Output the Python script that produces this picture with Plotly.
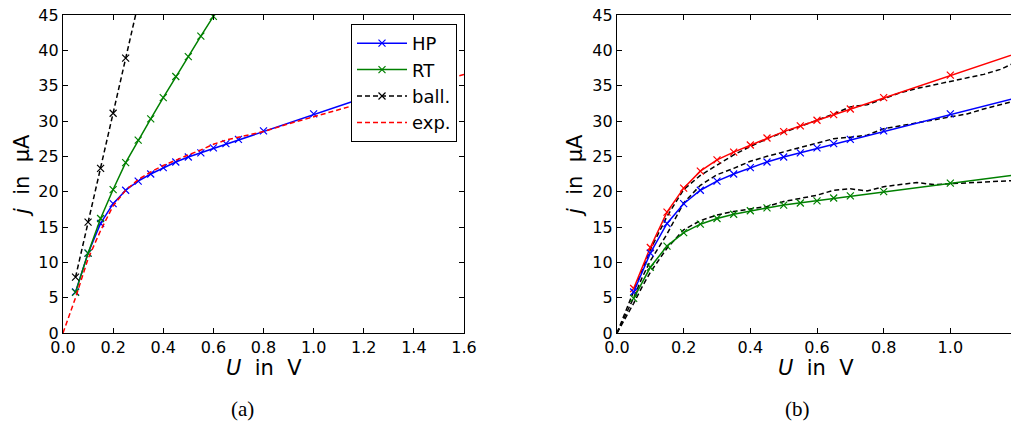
import plotly.graph_objects as go

# ---------------- data: panel (a) ----------------
u_hp = [0.05, 0.1, 0.15, 0.2, 0.25, 0.3, 0.35, 0.4, 0.45, 0.5, 0.55, 0.6, 0.65, 0.7, 0.8, 1.0, 1.2]
j_hp = [5.8, 11.3, 15.5, 18.3, 20.2, 21.5, 22.5, 23.4, 24.2, 24.9, 25.5, 26.2, 26.8, 27.4, 28.6, 31.0, 33.3]

u_rt = [0.05, 0.1, 0.15, 0.2, 0.25, 0.3, 0.35, 0.4, 0.45, 0.5, 0.55, 0.6]
j_rt = [5.75, 11.3, 16.2, 20.3, 24.1, 27.3, 30.3, 33.3, 36.3, 39.1, 42.0, 44.8]

u_ball = [0.05, 0.1, 0.15, 0.2, 0.25, 0.3]
j_ball = [7.9, 15.7, 23.3, 31.1, 38.9, 46.6]

u_exp_a = [0.0, 0.05, 0.1, 0.15, 0.2, 0.25, 0.3, 0.35, 0.4, 0.45, 0.5, 0.55, 0.6, 0.65,
           0.7, 0.75, 0.8, 0.9, 1.0, 1.1, 1.2, 1.3, 1.4, 1.5, 1.6]
j_exp_a = [0.0, 5.0, 10.5, 14.5, 18.0, 20.2, 21.7, 22.8, 23.7, 24.5, 25.2, 25.9, 26.7, 27.3,
           27.7, 28.0, 28.5, 29.6, 30.6, 31.5, 32.5, 33.5, 34.6, 35.6, 36.6]

# ---------------- data: panel (b) ----------------
u_b = [0.05, 0.1, 0.15, 0.2, 0.25, 0.3, 0.35, 0.4, 0.45, 0.5, 0.55, 0.6, 0.65, 0.7, 0.8, 1.0, 1.2]
j_b_red = [6.3, 12.1, 17.1, 20.5, 22.9, 24.5, 25.6, 26.6, 27.6, 28.5, 29.3, 30.1, 30.9, 31.7, 33.3, 36.5, 39.6]
j_b_blue = [5.8, 11.3, 15.5, 18.3, 20.2, 21.5, 22.5, 23.4, 24.2, 24.9, 25.5, 26.2, 26.8, 27.4, 28.6, 31.0, 33.3]
j_b_green = [4.9, 9.3, 12.3, 14.2, 15.4, 16.2, 16.8, 17.3, 17.7, 18.1, 18.4, 18.7, 19.1, 19.4, 20.0, 21.2, 22.4]

u_exp_b = [0.0, 0.025, 0.05, 0.075, 0.1, 0.15, 0.2, 0.25, 0.3, 0.35, 0.4, 0.45, 0.5, 0.55,
           0.6, 0.65, 0.7, 0.75, 0.8, 0.85, 0.9, 0.95, 1.0, 1.05, 1.1, 1.15, 1.2]
j_exp_b1 = [0.0, 3.0, 6.0, 9.0, 11.8, 16.5, 20.3, 22.3, 23.8, 25.2, 26.4, 27.5, 28.4, 29.2,
            30.1, 31.0, 32.0, 32.3, 33.2, 34.0, 34.6, 35.1, 35.6, 36.2, 36.6, 37.3, 38.4]
j_exp_b2 = [0.0, 2.5, 5.0, 7.8, 10.2, 14.0, 18.4, 20.9, 22.4, 23.3, 24.3, 25.0, 25.6, 26.3,
            26.9, 27.5, 27.7, 28.0, 28.9, 29.3, 29.8, 30.1, 30.5, 31.0, 31.7, 32.3, 32.9]
j_exp_b3 = [0.0, 2.0, 4.2, 6.5, 8.6, 12.0, 14.6, 15.9, 16.7, 17.2, 17.5, 17.9, 18.6, 19.1,
            19.5, 20.2, 20.4, 20.1, 20.7, 21.0, 21.3, 21.0, 21.1, 21.3, 21.4, 21.5, 21.6]

x_ticks_a = [0.0, 0.2, 0.4, 0.6, 0.8, 1.0, 1.2, 1.4, 1.6]
x_ticks_b = [0.0, 0.2, 0.4, 0.6, 0.8, 1.0]
y_ticks = [0, 5, 10, 15, 20, 25, 30, 35, 40, 45]

# ---------------- figure ----------------
W, H = 1011, 423
BLUE, GREEN, RED, BLACK = "#0000ff", "#008000", "#ff0000", "#000000"
FONT = "DejaVu Sans"


def mk(col):
    return dict(symbol="x-thin", size=7, line=dict(color=col, width=1.2), color=col)


fig = go.Figure()

# panel (a)
fig.add_trace(go.Scatter(x=u_hp, y=j_hp, mode="lines+markers", name="HP",
                         line=dict(color=BLUE, width=1.5), marker=mk(BLUE),
                         xaxis="x", yaxis="y"))
fig.add_trace(go.Scatter(x=u_rt, y=j_rt, mode="lines+markers", name="RT",
                         line=dict(color=GREEN, width=1.5), marker=mk(GREEN),
                         xaxis="x", yaxis="y"))
fig.add_trace(go.Scatter(x=u_ball, y=j_ball, mode="lines+markers", name="ball.",
                         line=dict(color=BLACK, width=1.5, dash="5px,3px"), marker=mk(BLACK),
                         xaxis="x", yaxis="y"))
fig.add_trace(go.Scatter(x=u_exp_a, y=j_exp_a, mode="lines", name="exp.",
                         line=dict(color=RED, width=1.5, dash="5px,3px"),
                         xaxis="x", yaxis="y"))

# panel (b)
for jj in (j_exp_b1, j_exp_b2, j_exp_b3):
    fig.add_trace(go.Scatter(x=u_exp_b, y=jj, mode="lines", showlegend=False,
                             line=dict(color=BLACK, width=1.5, dash="5px,3px"),
                             xaxis="x2", yaxis="y2"))
for jj, col in ((j_b_red, RED), (j_b_blue, BLUE), (j_b_green, GREEN)):
    fig.add_trace(go.Scatter(x=u_b, y=jj, mode="lines+markers", showlegend=False,
                             line=dict(color=col, width=1.5), marker=mk(col),
                             xaxis="x2", yaxis="y2"))

ax_common = dict(showgrid=False, zeroline=False, showline=True, linecolor="black",
                 linewidth=1.3, ticks="inside", ticklen=5, tickwidth=1, tickcolor="black",
                 automargin=False,
                 tickfont=dict(family=FONT, size=16, color="black"))

ytop = 1 - 15 / H
ybot = 1 - 333 / H

fig.update_layout(
    template="none",
    width=W, height=H,
    margin=dict(l=0, r=0, t=0, b=0, pad=0),
    paper_bgcolor="white", plot_bgcolor="white",
    font=dict(family=FONT, color="black"),
    xaxis=dict(domain=[63 / W, 464 / W], range=[0, 1.6], tickvals=x_ticks_a,
               ticktext=[f"{v:.1f}" for v in x_ticks_a], mirror="ticks",
               anchor="y", **ax_common),
    yaxis=dict(domain=[ybot, ytop], range=[0, 45], tickvals=y_ticks,
               ticktext=[str(v) for v in y_ticks], mirror="ticks",
               anchor="x", **ax_common),
    xaxis2=dict(domain=[617 / W, 1.0], range=[0, 1.182], tickvals=x_ticks_b,
                ticktext=[f"{v:.1f}" for v in x_ticks_b], mirror="ticks",
                anchor="y2", **ax_common),
    yaxis2=dict(domain=[ybot, ytop], range=[0, 45], tickvals=y_ticks,
                ticktext=[str(v) for v in y_ticks], mirror=False,
                anchor="x2", **ax_common),
    legend=dict(x=351 / W, y=1 - 24 / H, xanchor="left", yanchor="top",
                bgcolor="white", bordercolor="black", borderwidth=1,
                font=dict(family=FONT, size=18, color="black"),
                itemwidth=50, tracegroupgap=0),
    showlegend=True,
)

NB = "\u00a0"
ytitle = f"<i>j</i>{NB}{NB}in{NB}{NB}μA"
xtitle = f"<i>U</i>{NB}{NB}in{NB}{NB}V"
ann = []
for xc in (22, 575):
    ann.append(dict(text=ytitle, x=xc / W, y=1 - 176 / H, xref="paper", yref="paper",
                    showarrow=False, textangle=-90, xanchor="center", yanchor="middle",
                    font=dict(family=FONT, size=21, color="black")))
for xc in (264, 816):
    ann.append(dict(text=xtitle, x=xc / W, y=1 - 368 / H, xref="paper", yref="paper",
                    showarrow=False, xanchor="center", yanchor="middle",
                    font=dict(family=FONT, size=21, color="black")))
for xc, t in ((242, "(a)"), (797, "(b)")):
    ann.append(dict(text=t, x=xc / W, y=1 - 409 / H, xref="paper", yref="paper",
                    showarrow=False, xanchor="center", yanchor="middle",
                    font=dict(family="Liberation Serif", size=21, color="black")))
fig.update_layout(annotations=ann)

fig.write_html("out.html",
               config={"displayModeBar": False},
               post_script="document.body.style.margin='0px';"
                           "document.body.style.padding='0px';"
                           "document.body.style.overflow='hidden';")
